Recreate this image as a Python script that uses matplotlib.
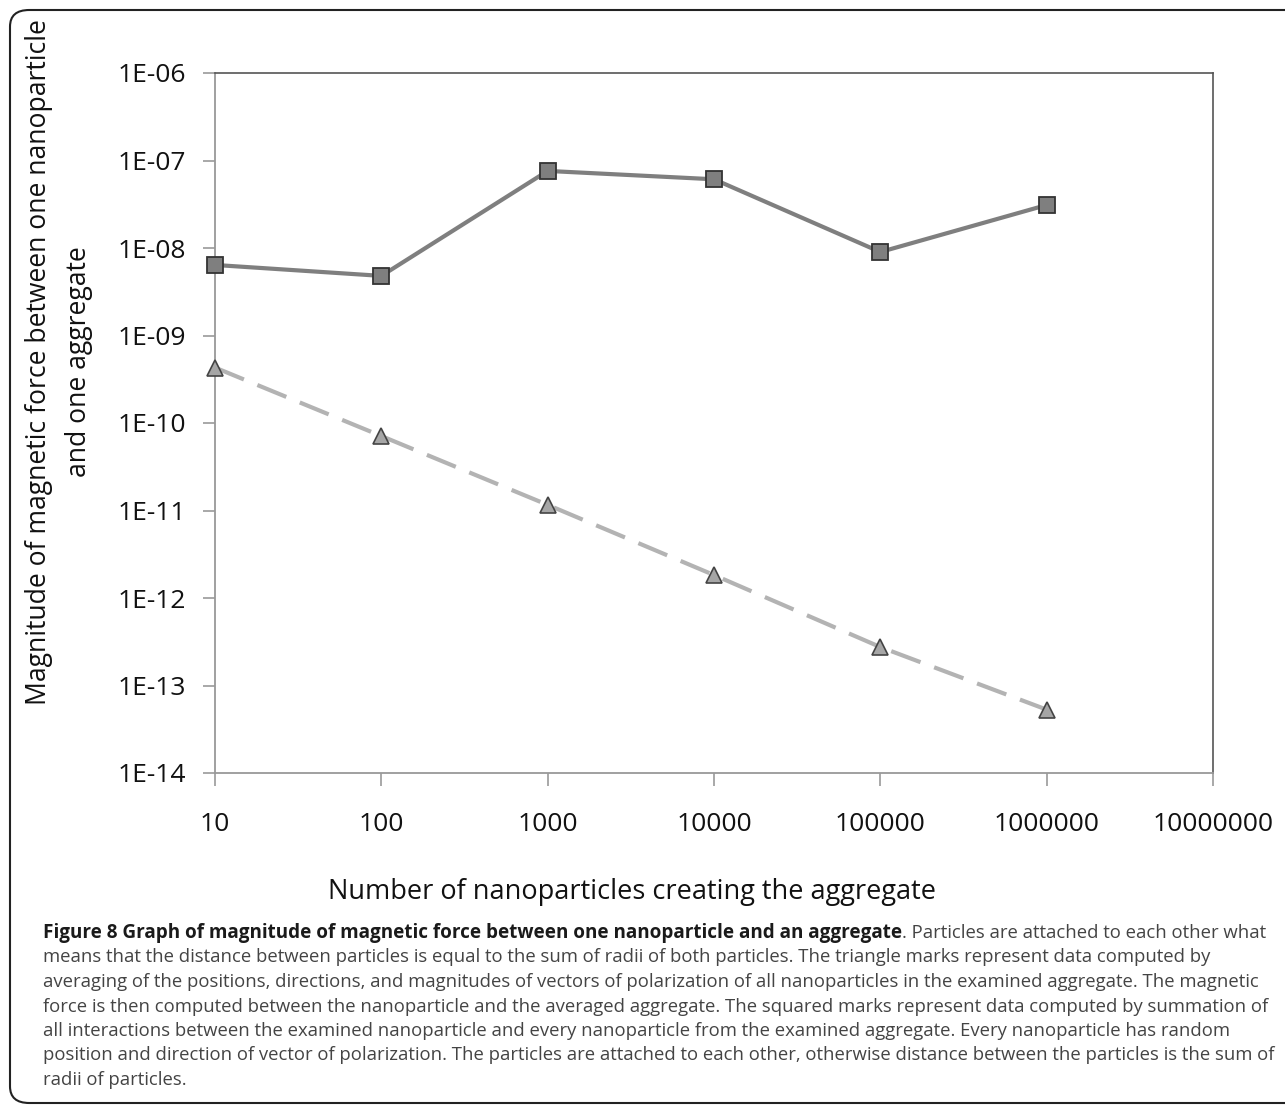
import matplotlib
matplotlib.use("Agg")
import matplotlib.pyplot as plt
from matplotlib.patches import FancyBboxPatch
from matplotlib.ticker import FixedLocator, NullLocator

# ---- data ----
x_counts = [10, 100, 1000, 10000, 100000, 1000000]
force_summation = [6.4e-9, 4.8e-9, 7.6e-8, 6.1e-8, 9.0e-9, 3.1e-8]
force_averaged = [4.3e-10, 7.1e-11, 1.16e-11, 1.83e-12, 2.75e-13, 5.3e-14]
x_tick_vals = [10, 100, 1000, 10000, 100000, 1000000, 10000000]
x_tick_labels = ["10", "100", "1000", "10000", "100000", "1000000", "10000000"]
y_tick_vals = [1e-14, 1e-13, 1e-12, 1e-11, 1e-10, 1e-9, 1e-8, 1e-7, 1e-6]
y_tick_labels = ["1E-14", "1E-13", "1E-12", "1E-11", "1E-10", "1E-09", "1E-08", "1E-07", "1E-06"]
x_label = "Number of nanoparticles creating the aggregate"
y_label_lines = ["Magnitude of magnetic force between one nanoparticle", "and one aggregate"]
caption_bold = "Figure 8 Graph of magnitude of magnetic force between one nanoparticle and an aggregate"
caption_lines = [
    ". Particles are attached to each other what",
    "means that the distance between particles is equal to the sum of radii of both particles. The triangle marks represent data computed by",
    "averaging of the positions, directions, and magnitudes of vectors of polarization of all nanoparticles in the examined aggregate. The magnetic",
    "force is then computed between the nanoparticle and the averaged aggregate. The squared marks represent data computed by summation of",
    "all interactions between the examined nanoparticle and every nanoparticle from the examined aggregate. Every nanoparticle has random",
    "position and direction of vector of polarization. The particles are attached to each other, otherwise distance between the particles is the sum of",
    "radii of particles.",
]

plt.rcParams['font.family'] = ['Open Sans', 'DejaVu Sans']

W, H = 1285, 1109
fig = plt.figure(figsize=(W / 100, H / 100), dpi=100)

# rounded border
border = FancyBboxPatch((10 / W, 6 / H), (W + 20) / W, (H - 16) / H,
                        boxstyle="round,pad=0,rounding_size=0.015",
                        transform=fig.transFigure, fill=False,
                        edgecolor="#222222", linewidth=1.5, clip_on=False)
fig.patches.append(border)

L, R, T, B = 215, 1213, 73, 773
ax = fig.add_axes([L / W, 1 - B / H, (R - L) / W, (B - T) / H])
ax.set_xscale("log")
ax.set_yscale("log")
ax.set_xlim(10, 1e7)
ax.set_ylim(1e-14, 1e-6)

ax.plot(x_counts, force_summation, color="#7f7f7f", linewidth=3,
        marker="s", markersize=12, markerfacecolor="#7f7f7f",
        markeredgecolor="#333333", markeredgewidth=1.3, zorder=3, clip_on=False)
ax.plot(x_counts, force_averaged, color="#b3b3b3", linewidth=3,
        linestyle=(0, (7.5, 3.5)),
        marker="^", markersize=12, markerfacecolor="#a6a6a6",
        markeredgecolor="#444444", markeredgewidth=1.2, zorder=3, clip_on=False)

ax.xaxis.set_major_locator(FixedLocator(x_tick_vals))
ax.xaxis.set_minor_locator(NullLocator())
ax.set_xticklabels(x_tick_labels)
ax.yaxis.set_major_locator(FixedLocator(y_tick_vals))
ax.yaxis.set_minor_locator(NullLocator())
ax.set_yticklabels(y_tick_labels)

for s in ["left", "bottom"]:
    ax.spines[s].set_color("#999999")
    ax.spines[s].set_linewidth(1.3)
for s in ["top", "right"]:
    ax.spines[s].set_color("#555555")
    ax.spines[s].set_linewidth(1.2)
ax.tick_params(axis="both", direction="out", length=9, width=1.2,
               color="#999999", labelsize=19, labelcolor="#111111")
ax.tick_params(axis="x", pad=19)
ax.tick_params(axis="y", pad=12)

fig.text(632 / W, 1 - 892 / H, x_label, ha="center", va="center",
         fontsize=19.5, color="#111111")
fig.text(39 / W, 1 - 362 / H, y_label_lines[0], ha="center", va="center",
         rotation=90, fontsize=19.1, color="#111111")
fig.text(79 / W, 1 - 362 / H, y_label_lines[1], ha="center", va="center",
         rotation=90, fontsize=19.1, color="#111111")

# caption
fig.canvas.draw()
r = fig.canvas.get_renderer()
cap_x = 43
cap_y0 = 933
dy = 24.5
fs = 13.3
tb = fig.text(cap_x / W, 1 - cap_y0 / H, caption_bold, ha="left", va="center",
              fontsize=13.55, fontweight="bold", color="#1a1a1a")
bb = tb.get_window_extent(renderer=r)
fig.text(bb.x1 / W, 1 - cap_y0 / H, caption_lines[0], ha="left", va="center",
         fontsize=fs, color="#444444")
for i, line in enumerate(caption_lines[1:], start=1):
    fig.text(cap_x / W, 1 - (cap_y0 + i * dy) / H, line, ha="left", va="center",
             fontsize=fs, color="#444444")

fig.savefig("out.png", dpi=100)
